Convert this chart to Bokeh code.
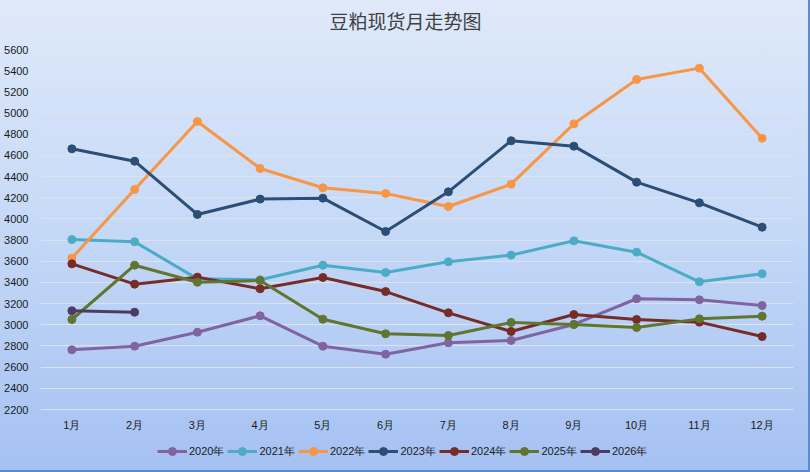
from bokeh.plotting import figure
from bokeh.models import FixedTicker, Legend, LegendItem, Range1d, Label
from bokeh.embed import file_html
from bokeh.resources import INLINE

months = ["1月", "2月", "3月", "4月", "5月", "6月", "7月", "8月", "9月", "10月", "11月", "12月"]
y_ticks = [2200, 2400, 2600, 2800, 3000, 3200, 3400, 3600, 3800, 4000, 4200, 4400, 4600, 4800, 5000, 5200, 5400, 5600]

y2020 = [2764, 2798, 2930, 3085, 2798, 2722, 2830, 2852, 3003, 3246, 3236, 3182]
y2021 = [3805, 3784, 3434, 3425, 3563, 3494, 3595, 3658, 3793, 3686, 3406, 3482]
y2022 = [3630, 4278, 4920, 4476, 4294, 4240, 4117, 4328, 4898, 5317, 5424, 4762]
y2023 = [4662, 4545, 4042, 4187, 4196, 3881, 4256, 4738, 4687, 4347, 4152, 3922]
y2024 = [3576, 3384, 3450, 3340, 3447, 3314, 3113, 2937, 3097, 3050, 3025, 2889]
y2025 = [3050, 3563, 3402, 3418, 3053, 2915, 2899, 3022, 3003, 2974, 3056, 3081]
y2026 = [3132, 3119]

series_names = ["2020年", "2021年", "2022年", "2023年", "2024年", "2025年", "2026年"]
series_values = [y2020, y2021, y2022, y2023, y2024, y2025, y2026]
series_colors = ["#8064A2", "#4BACC6", "#F79646", "#2C4D75", "#772C2A", "#5F7530", "#4D3B62"]

title_text = "豆粕现货月走势图"

# layout: frame spans the whole height; axis 2200..5600 occupies 49..409 px
W, H = 810, 472
frame_top_px, top_px, axis_bottom_px, frame_bottom_px = 0, 49, 409, 470
title_px = 20
y_min, y_max = y_ticks[0], y_ticks[-1]
upp = (y_max - y_min) / (axis_bottom_px - top_px)
y_start = y_min - (frame_bottom_px - axis_bottom_px) * upp
y_end = y_max + (top_px - frame_top_px) * upp

p = figure(x_range=months, y_range=Range1d(y_start, y_end), width=W, height=H,
           output_backend="svg", toolbar_location=None,
           min_border_left=40, min_border_right=17, min_border_top=frame_top_px,
           min_border_bottom=H - frame_bottom_px)

p.background_fill_alpha = 0
p.border_fill_alpha = 0
p.outline_line_color = None
p.styles = {
    "background": "linear-gradient(to bottom, #dfe9fa 0%, #c7daf7 45%, #a5c1f2 100%)",
    "box-shadow": "inset -2px -2px 0 0 #5b8bd3",
}

title = Label(x=405 - 40, x_units="screen", y=y_max + (top_px - title_px) * upp, y_units="data",
              text=title_text, text_font="Noto Sans CJK SC", text_font_size="19px",
              text_color="#404040", text_align="center", text_baseline="middle")
p.add_layout(title)

items = []
for name, vals, col in zip(series_names, series_values, series_colors):
    xs = months[:len(vals)]
    r1 = p.line(xs, vals, line_color=col, line_width=3)
    r2 = p.scatter(xs, vals, size=8, fill_color=col, line_color=col)
    items.append(LegendItem(label=name, renderers=[r1, r2]))

p.xgrid.grid_line_color = None
p.ygrid.grid_line_color = "#dde3ee"
p.ygrid.grid_line_width = 1

p.yaxis.ticker = FixedTicker(ticks=y_ticks)
p.xaxis.fixed_location = y_min
for ax in (p.xaxis[0], p.yaxis[0]):
    ax.axis_line_color = None
    ax.major_tick_line_color = None
    ax.minor_tick_line_color = None
    ax.major_label_text_font = "Liberation Sans"
    ax.major_label_text_font_size = "11px"
    ax.major_label_text_color = "#1a1a1a"
p.xaxis.major_label_standoff = 3
p.yaxis.major_label_standoff = 6

legend = Legend(items=items, orientation="horizontal", location=(117, 9),
                background_fill_alpha=0, border_line_alpha=0,
                label_text_font="Liberation Sans", label_text_font_size="11px",
                label_text_color="#1a1a1a",
                glyph_width=30, glyph_height=20, label_standoff=2, spacing=3,
                padding=0, margin=0, label_height=20)
p.add_layout(legend)

open("out.html", "w").write(file_html(p, INLINE))
